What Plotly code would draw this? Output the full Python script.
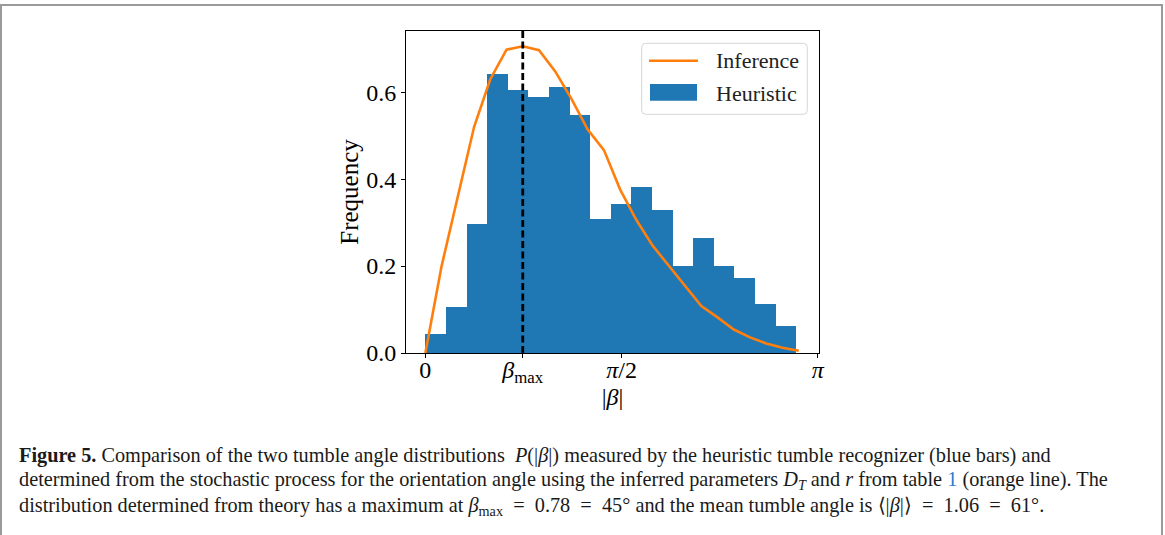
import plotly.graph_objects as go

# ---------------- data ----------------
heuristic_heights = [0.044, 0.106, 0.296, 0.643, 0.606, 0.590, 0.613, 0.548, 0.309,
                     0.342, 0.383, 0.330, 0.200, 0.265, 0.200, 0.173, 0.113, 0.061]
bin_width = 0.165
inference_x = [0.00, 0.13, 0.26, 0.39, 0.52, 0.65, 0.78, 0.91, 1.04, 1.17, 1.30, 1.43,
               1.56, 1.69, 1.82, 1.95, 2.08, 2.21, 2.34, 2.47, 2.60, 2.73, 2.86, 2.99]
inference_y = [0.0, 0.20, 0.36, 0.52, 0.63, 0.698, 0.706, 0.697, 0.648, 0.585, 0.514, 0.467,
               0.376, 0.306, 0.247, 0.200, 0.153, 0.108, 0.082, 0.054, 0.036, 0.022, 0.012, 0.005]
beta_max = 0.78
x_tick_vals = [0.0, beta_max, 3.14159265 / 2, 3.14159265]
x_tick_text = ["0", "<i>β</i><sub>max</sub>", "<i>π</i>/2", "<i>π</i>"]
y_tick_vals = [0.0, 0.2, 0.4, 0.6]

BLUE = "#1f77b4"
ORANGE = "#ff7f0e"
FONT = "Liberation Serif"

# ---------------- layout geometry (pixels) ----------------
FIG_W, FIG_H = 1165, 535
L, T, W, H = 406, 31, 413, 322
B = FIG_H - T - H
R = FIG_W - L - W


def px(x):
    return (x - L) / W


def py(y):
    return (T + H - y) / H


bar_centers = [(i + 0.5) * bin_width for i in range(len(heuristic_heights))]

fig = go.Figure()
fig.add_trace(go.Bar(x=bar_centers, y=heuristic_heights, width=bin_width,
                     marker=dict(color=BLUE, line=dict(width=0)),
                     name="Heuristic", showlegend=False))
fig.add_trace(go.Scatter(x=inference_x, y=inference_y, mode="lines",
                         line=dict(color=ORANGE, width=2.6),
                         name="Inference", showlegend=False))

shapes = []
# dashed beta_max line
shapes.append(dict(type="line", xref="x", yref="paper", x0=beta_max, x1=beta_max,
                   y0=0, y1=1, line=dict(color="black", width=2.8, dash="7px,3.5px")))

# custom legend box (rounded)
lx0, lx1, ly0, ly1, r = 641.7, 807.3, 43.3, 114.3, 4
path = (f"M {px(lx0 + r)},{py(ly0)} L {px(lx1 - r)},{py(ly0)} "
        f"Q {px(lx1)},{py(ly0)} {px(lx1)},{py(ly0 + r)} "
        f"L {px(lx1)},{py(ly1 - r)} Q {px(lx1)},{py(ly1)} {px(lx1 - r)},{py(ly1)} "
        f"L {px(lx0 + r)},{py(ly1)} Q {px(lx0)},{py(ly1)} {px(lx0)},{py(ly1 - r)} "
        f"L {px(lx0)},{py(ly0 + r)} Q {px(lx0)},{py(ly0)} {px(lx0 + r)},{py(ly0)} Z")
shapes.append(dict(type="path", xref="paper", yref="paper", path=path,
                   fillcolor="rgba(255,255,255,0.8)", line=dict(color="#d6d6d6", width=1)))
shapes.append(dict(type="line", xref="paper", yref="paper", x0=px(649), x1=px(698),
                   y0=py(60.7), y1=py(60.7), line=dict(color=ORANGE, width=2.6)))
shapes.append(dict(type="rect", xref="paper", yref="paper", x0=px(650), x1=px(697),
                   y0=py(100.7), y1=py(84), fillcolor=BLUE, line=dict(width=0)))
# page frame
shapes.append(dict(type="rect", xref="paper", yref="paper", x0=px(1), x1=px(1162),
                   y0=py(545), y1=py(5), line=dict(color="#9a9a9a", width=2),
                   fillcolor="rgba(0,0,0,0)", layer="below"))

annotations = [
    dict(xref="paper", yref="paper", x=px(714), y=py(61), xanchor="left", yanchor="middle",
         text="Inference", showarrow=False, font=dict(family=FONT, size=22, color="#222")),
    dict(xref="paper", yref="paper", x=px(714), y=py(93), xanchor="left", yanchor="middle",
         text="Heuristic", showarrow=False, font=dict(family=FONT, size=22, color="#222")),
]

EQ = "\u2002=\u2002"
caption = [
    "<b>Figure 5.</b> Comparison of the two tumble angle distributions  <i>P</i>(|<i>β</i>|) "
    "measured by the heuristic tumble recognizer (blue bars) and",
    "determined from the stochastic process for the orientation angle using the inferred "
    "parameters <i>D<sub>T</sub></i> and <i>r</i> from table "
    "<span style='color:#2a7bd0'>1</span> (orange line). The",
    f"distribution determined from theory has a maximum at <i>β</i><sub>max</sub>{EQ}0.78{EQ}45° "
    f"and the mean tumble angle is ⟨|<i>β</i>|⟩{EQ}1.06{EQ}61°.",
]
for i, line in enumerate(caption):
    annotations.append(dict(xref="paper", yref="paper", x=px(17), y=py(455 + 26 * i),
                            xanchor="left", yanchor="middle", text=line, showarrow=False,
                            font=dict(family=FONT, size=20.3, color="#1a1a1a")))

fig.update_layout(
    width=FIG_W, height=FIG_H,
    margin=dict(l=L, r=R, t=T, b=B, pad=0),
    paper_bgcolor="white", plot_bgcolor="white",
    bargap=0, showlegend=False,
    shapes=shapes, annotations=annotations,
    font=dict(family=FONT, color="black"),
    xaxis=dict(range=[-0.155, 3.152], tickvals=x_tick_vals, ticktext=x_tick_text,
               showgrid=False, zeroline=False, showline=True, linecolor="black", linewidth=1,
               mirror=True, ticks="outside", ticklen=4, tickwidth=1, tickcolor="black",
               tickfont=dict(family=FONT, size=24), automargin=False, ticklabelstandoff=-9,
               title=dict(text="|<i>β</i>|", font=dict(family=FONT, size=24), standoff=2)),
    yaxis=dict(range=[0, 0.741], tickvals=y_tick_vals, tickformat=".1f",
               showgrid=False, zeroline=False, showline=True, linecolor="black", linewidth=1,
               mirror=True, ticks="outside", ticklen=4, tickwidth=1, tickcolor="black",
               tickfont=dict(family=FONT, size=24), automargin=False,
               title=dict(text="Frequency", font=dict(family=FONT, size=25), standoff=0)),
)

fig.write_html("out.html")
